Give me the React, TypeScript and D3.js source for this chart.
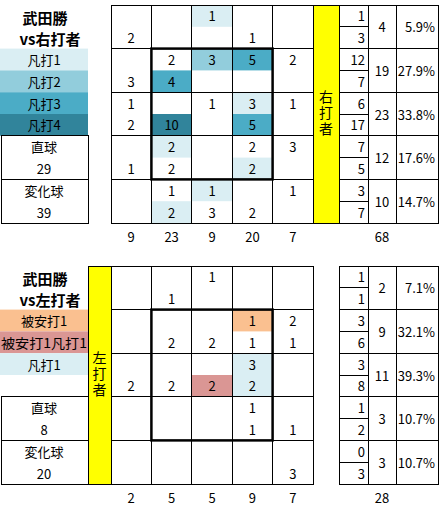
import { format, scaleLinear, scaleOrdinal, sum } from 'd3'

type Pair = readonly [number | null, number | null]
type MarkPair = readonly [string, string]

const pitcherName = '武田勝'
const panelTitles = ['vs右打者', 'vs左打者']
const batterSideLabels = ['右打者', '左打者']
const pitchTypes = ['直球', '変化球']

const rightLegend = ['凡打1', '凡打2', '凡打3', '凡打4']
const leftLegend = ['被安打1', '被安打1凡打1', '凡打1']

// [upper half, lower half] counts per zone cell, row by row
const rightValues: Pair[][] = [
  [[null, 2], [null, null], [1, null], [null, 1], [null, null]],
  [[null, 3], [2, 4], [3, null], [5, null], [2, null]],
  [[1, 2], [null, 10], [1, null], [3, 5], [1, null]],
  [[null, 1], [2, 2], [null, null], [2, 2], [3, null]],
  [[null, null], [1, 2], [1, 3], [null, 2], [1, null]],
]

const rightMarks: MarkPair[][] = [
  [['', ''], ['', ''], ['凡打1', ''], ['', ''], ['', '']],
  [['', ''], ['', '凡打3'], ['凡打2', ''], ['凡打3', ''], ['', '']],
  [['', ''], ['', '凡打4'], ['', ''], ['凡打1', '凡打3'], ['', '']],
  [['', ''], ['凡打1', ''], ['', ''], ['', '凡打1'], ['', '']],
  [['', ''], ['', '凡打1'], ['凡打1', ''], ['', ''], ['', '']],
]

const leftValues: Pair[][] = [
  [[null, null], [null, 1], [1, null], [null, null], [null, null]],
  [[null, null], [null, 2], [null, 2], [1, 1], [2, 1]],
  [[null, 2], [null, 2], [null, 2], [3, 2], [null, null]],
  [[null, null], [null, null], [null, null], [1, 1], [null, 1]],
  [[null, null], [null, null], [null, null], [null, null], [null, 3]],
]

const leftMarks: MarkPair[][] = [
  [['', ''], ['', ''], ['', ''], ['', ''], ['', '']],
  [['', ''], ['', ''], ['', ''], ['被安打1', ''], ['', '']],
  [['', ''], ['', ''], ['', '被安打1凡打1'], ['凡打1', '凡打1'], ['', '']],
  [['', ''], ['', ''], ['', ''], ['', ''], ['', '']],
  [['', ''], ['', ''], ['', ''], ['', ''], ['', '']],
]

const rightPitchCounts = [29, 39]
const leftPitchCounts = [8, 20]

const markColor = scaleOrdinal<string, string>()
  .domain(['凡打1', '凡打2', '凡打3', '凡打4', '被安打1', '被安打1凡打1'])
  .range(['#daeef3', '#92cddc', '#4bacc6', '#31849b', '#fac090', '#da9694'])

const font = '"Noto Sans CJK JP", "Noto Sans", sans-serif'
const percent = format('.1%')

const gridLeft = 111
const gridRight = 313
const tableLeft = 339
const tableCols = [339, 368, 396, 438]
const rowHeight = 43.6
const legendWidth = 88

type PanelProps = {
  readonly top: number
  readonly title: string
  readonly sideLabel: string
  readonly values: Pair[][]
  readonly marks: MarkPair[][]
  readonly legend: string[]
  readonly pitchCounts: number[]
  readonly bandSide: 'left' | 'right'
}

function Panel({ top, title, sideLabel, values, marks, legend, pitchCounts, bandSide }: PanelProps) {
  const x = scaleLinear().domain([0, 5]).range([gridLeft, gridRight])
  const y = scaleLinear().domain([0, 5]).range([top, top + rowHeight * 5])
  const colWidth = x(1) - x(0)
  const half = rowHeight / 2
  const bottom = y(5)

  const upperTotals = values.map((row) => sum(row, (cell) => cell[0] ?? 0))
  const lowerTotals = values.map((row) => sum(row, (cell) => cell[1] ?? 0))
  const rowTotals = upperTotals.map((value, index) => value + lowerTotals[index])
  const grandTotal = sum(rowTotals)
  const columnTotals = [0, 1, 2, 3, 4].map((col) =>
    sum(values, (row) => (row[col][0] ?? 0) + (row[col][1] ?? 0)),
  )

  const band = bandSide === 'right' ? [gridRight, tableLeft] : [legendWidth, gridLeft]
  const bandCenter = (band[0] + band[1]) / 2
  const bandMid = (top + bottom) / 2

  return (
    <g fontFamily={font} fill="#000">
      <text x={45} y={top + 12} fontSize={15} fontWeight="bold" textAnchor="middle" dominantBaseline="central">
        {pitcherName}
      </text>
      <text x={50} y={top + 33} fontSize={15} fontWeight="bold" textAnchor="middle" dominantBaseline="central">
        {title}
      </text>

      {legend.map((label, index) => (
        <g key={label}>
          <rect x={0} y={y(1) + index * half} width={legendWidth} height={half} fill={markColor(label)} />
          <text
            x={legendWidth / 2}
            y={y(1) + index * half + half / 2}
            fontSize={13}
            textAnchor="middle"
            dominantBaseline="central"
            textLength={label.length > 5 ? legendWidth - 2 : undefined}
            lengthAdjust="spacingAndGlyphs"
          >
            {label}
          </text>
        </g>
      ))}

      {pitchTypes.map((label, index) => (
        <g key={label}>
          <rect
            x={1}
            y={y(3 + index)}
            width={legendWidth - 1}
            height={rowHeight}
            fill="#fff"
            stroke="#000"
            shapeRendering="crispEdges"
          />
          <text x={44} y={y(3 + index) + half / 2} fontSize={13} textAnchor="middle" dominantBaseline="central">
            {label}
          </text>
          <text x={44} y={y(3 + index) + half * 1.5} fontSize={13} textAnchor="middle" dominantBaseline="central">
            {pitchCounts[index]}
          </text>
        </g>
      ))}

      {values.map((row, r) =>
        row.map((cell, c) => (
          <g key={`${r}-${c}`}>
            {marks[r][c].map((mark, h) =>
              mark ? (
                <rect
                  key={h}
                  x={x(c)}
                  y={y(r) + h * half}
                  width={colWidth}
                  height={half}
                  fill={markColor(mark)}
                />
              ) : null,
            )}
            <rect
              x={x(c)}
              y={y(r)}
              width={colWidth}
              height={rowHeight}
              fill="none"
              stroke="#000"
              shapeRendering="crispEdges"
            />
            {cell.map((value, h) =>
              value === null ? null : (
                <text
                  key={h}
                  x={x(c) + colWidth / 2}
                  y={y(r) + h * half + half / 2}
                  fontSize={13}
                  textAnchor="middle"
                  dominantBaseline="central"
                >
                  {value}
                </text>
              ),
            )}
          </g>
        )),
      )}

      <rect x={x(1)} y={y(1)} width={x(4) - x(1)} height={y(4) - y(1)} fill="none" stroke="#000" strokeWidth={2.5} />

      <rect
        x={band[0]}
        y={top}
        width={band[1] - band[0]}
        height={bottom - top}
        fill="#ffff00"
        stroke="#000"
        shapeRendering="crispEdges"
      />
      <text
        x={bandCenter}
        y={bandMid}
        fontSize={14}
        textAnchor="middle"
        letterSpacing={2}
        style={{ writingMode: 'vertical-rl' }}
      >
        {sideLabel}
      </text>

      {rowTotals.map((total, r) => (
        <g key={r}>
          <rect
            x={tableCols[0]}
            y={y(r)}
            width={tableCols[3] - tableCols[0]}
            height={rowHeight}
            fill="#fff"
            stroke="#000"
            shapeRendering="crispEdges"
          />
          <line x1={tableCols[0]} x2={tableCols[1]} y1={y(r) + half} y2={y(r) + half} stroke="#000" shapeRendering="crispEdges" />
          <line x1={tableCols[1]} x2={tableCols[1]} y1={y(r)} y2={y(r + 1)} stroke="#000" shapeRendering="crispEdges" />
          <line x1={tableCols[2]} x2={tableCols[2]} y1={y(r)} y2={y(r + 1)} stroke="#000" shapeRendering="crispEdges" />
          <text x={tableCols[1] - 3} y={y(r) + half / 2} fontSize={13} textAnchor="end" dominantBaseline="central">
            {upperTotals[r]}
          </text>
          <text x={tableCols[1] - 3} y={y(r) + half * 1.5} fontSize={13} textAnchor="end" dominantBaseline="central">
            {lowerTotals[r]}
          </text>
          <text x={(tableCols[1] + tableCols[2]) / 2} y={y(r) + half} fontSize={13} textAnchor="middle" dominantBaseline="central">
            {total}
          </text>
          <text x={tableCols[3] - 3} y={y(r) + half} fontSize={13} textAnchor="end" dominantBaseline="central">
            {percent(total / grandTotal)}
          </text>
        </g>
      ))}

      {columnTotals.map((total, c) => (
        <text key={c} x={x(c) + colWidth / 2} y={bottom + 13} fontSize={13} textAnchor="middle" dominantBaseline="central">
          {total}
        </text>
      ))}
      <text x={(tableCols[1] + tableCols[2]) / 2} y={bottom + 13} fontSize={13} textAnchor="middle" dominantBaseline="central">
        {grandTotal}
      </text>
    </g>
  )
}

export default function App() {
  return (
    <svg
      width={443}
      height={506}
      viewBox="0 0 443 506"
      style={{ position: 'absolute', left: 0, top: 0, background: '#fff' }}
    >
      <rect width={443} height={506} fill="#fff" />
      <Panel
        top={5}
        title={panelTitles[0]}
        sideLabel={batterSideLabels[0]}
        values={rightValues}
        marks={rightMarks}
        legend={rightLegend}
        pitchCounts={rightPitchCounts}
        bandSide="right"
      />
      <Panel
        top={266}
        title={panelTitles[1]}
        sideLabel={batterSideLabels[1]}
        values={leftValues}
        marks={leftMarks}
        legend={leftLegend}
        pitchCounts={leftPitchCounts}
        bandSide="left"
      />
    </svg>
  )
}
